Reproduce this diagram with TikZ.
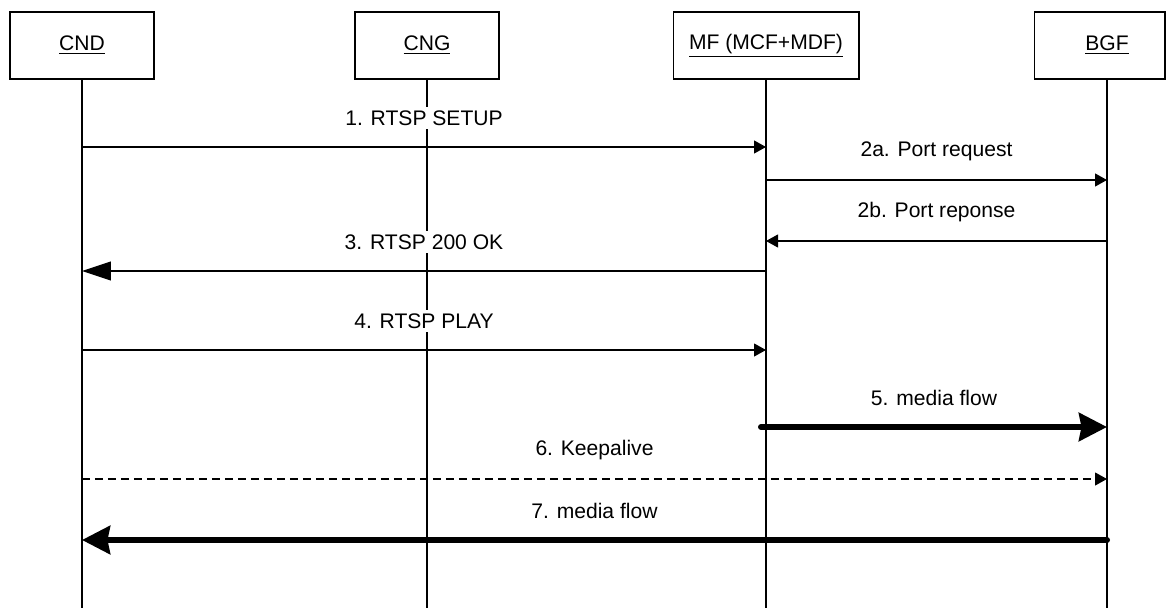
\documentclass[tikz,border=0pt]{standalone}
\usepackage{fontspec}
\setmainfont{Liberation Sans}
\usetikzlibrary{arrows.meta,positioning}

\begin{document}
\begin{tikzpicture}[x=0.02cm, y=-0.02cm, font=\fontsize{12}{14}\selectfont,
        actor/.style={draw, line width=0.6pt, minimum height=1.34cm, inner sep=0pt},
        life/.style={line width=0.6pt},
        msg/.style={line width=0.6pt, -{Triangle[length=0.24cm,width=0.26cm]}},
        bigmsg/.style={line width=0.6pt, -{Triangle[length=0.58cm,width=0.38cm]}},
        flow/.style={line width=3.4pt, line cap=round, -{Stealth[length=0.56cm,width=0.56cm,inset=0.05cm]}},
        lbl/.style={fill=white, inner sep=2pt, yshift=0.58cm}]
        \useasboundingbox (0,0) rectangle (1166,608);

        % entities
        \node[actor, minimum width=2.88cm] (cnd) at (82,45.5) {\underline{CND}};
        \node[actor, minimum width=2.88cm] (cng) at (427,45.5) {\underline{CNG}};
        \node[actor, minimum width=3.72cm] (mf) at (766,45.5) {\underline{MF (MCF+MDF)}};
        \node[actor, minimum width=2.62cm] (bgf) at (1099.5,45.5) {};
        \node (bgflbl) at (1107,45.5) {\underline{BGF}};

        % lifelines
        \coordinate (bottom) at (0,608);
        \foreach \n in {cnd,cng,mf,bgflbl}
        {
            \draw[life] (\n |- bgf.south) -- (\n |- bottom);
        }

        % message levels
        \foreach \n/\y in {m1/147, m2a/180, m2b/241, m3/271, m4/350, m5/427, m6/479, m7/540}
        {
            \coordinate (\n) at (0,\y);
        }

        \draw[msg] (cnd |- m1) -- node[lbl]{1. RTSP SETUP} (mf |- m1);
        \draw[msg] (mf |- m2a) -- node[lbl]{2a. Port request} (bgflbl |- m2a);
        \draw[msg] (bgflbl |- m2b) -- node[lbl]{2b. Port reponse} (mf |- m2b);
        \draw[bigmsg] (mf |- m3) -- node[lbl]{3. RTSP 200 OK} (cnd |- m3);
        \draw[msg] (cnd |- m4) -- node[lbl]{4. RTSP PLAY} (mf |- m4);
        \draw[flow] ([xshift=-0.1cm]mf |- m5) -- node[lbl]{5. media flow} (bgflbl |- m5);
        \draw[msg, dash pattern=on 0.16cm off 0.1cm] (cnd |- m6) -- node[lbl]{6. Keepalive} (bgflbl |- m6);
        \draw[flow] (bgflbl |- m7) -- node[lbl]{7. media flow} (cnd |- m7);
\end{tikzpicture}
\end{document}
